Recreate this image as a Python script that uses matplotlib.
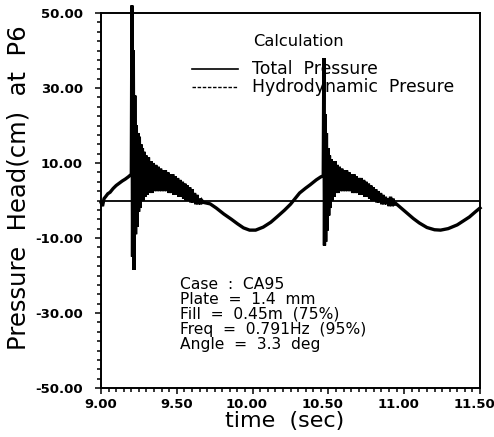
import matplotlib
matplotlib.use("Agg")
import matplotlib.pyplot as plt
from matplotlib.lines import Line2D
from matplotlib.ticker import MultipleLocator, FormatStrFormatter
import matplotlib.transforms as mtransforms

# ---- data ----
# total pressure: time (s)
total_t = [
    9.000, 9.010, 9.020, 9.030, 9.045, 9.060, 9.080, 9.100, 9.120, 9.140, 9.160, 9.180, 9.195, 9.200,
    # burst 1
    9.204, 9.208, 9.213, 9.218, 9.223, 9.228, 9.233, 9.238, 9.243, 9.248, 9.253, 9.258, 9.263, 9.268,
    9.273, 9.278, 9.283, 9.290, 9.297, 9.305, 9.313, 9.321, 9.329, 9.337, 9.345, 9.353, 9.361, 9.369,
    9.377, 9.385, 9.393, 9.401, 9.409, 9.417, 9.425, 9.433, 9.441, 9.449, 9.457, 9.465, 9.473, 9.481,
    9.489, 9.497, 9.505, 9.513, 9.521, 9.529, 9.537, 9.545, 9.553, 9.561, 9.569, 9.577, 9.585, 9.593,
    9.601, 9.609, 9.617, 9.625, 9.633, 9.641, 9.649, 9.657, 9.665, 9.675,
    # trough 1
    9.720, 9.760, 9.810, 9.860, 9.900, 9.940, 9.980, 10.020, 10.070, 10.120, 10.160, 10.210, 10.250,
    10.280, 10.310, 10.350, 10.380, 10.420, 10.450, 10.466,
    # burst 2
    10.470, 10.474, 10.478, 10.482, 10.487, 10.492, 10.497, 10.502, 10.507, 10.512, 10.518, 10.524,
    10.530, 10.537, 10.544, 10.551, 10.558, 10.565, 10.572, 10.580, 10.588, 10.596, 10.604, 10.612,
    10.620, 10.628, 10.636, 10.644, 10.652, 10.660, 10.668, 10.676, 10.684, 10.692, 10.700, 10.708,
    10.716, 10.724, 10.732, 10.740, 10.748, 10.756, 10.764, 10.772, 10.780, 10.788, 10.796, 10.804,
    10.812, 10.820, 10.828, 10.836, 10.844, 10.852, 10.860, 10.868, 10.876, 10.884, 10.892, 10.900,
    10.910, 10.918, 10.926, 10.934, 10.945,
    # trough 2
    11.020, 11.060, 11.100, 11.150, 11.200, 11.240, 11.290, 11.350, 11.400, 11.430, 11.470, 11.500,
]
# total pressure: head (cm)
total_v = [
    -0.5, -1.5, 0.5, 1.0, 1.8, 2.2, 3.2, 4.0, 4.6, 5.2, 5.7, 6.3, 6.8, 7.0,
    52.0, -15.0, 40.0, -18.5, 28.0, -9.0, 20.0, -7.0, 18.0, -3.0, 17.0, -2.0, 15.0, 0.0,
    14.0, 0.0, 13.0, 1.0, 12.0, 1.5, 11.5, 2.0, 10.5, 2.0, 10.0, 2.5, 9.5, 2.5,
    9.0, 2.5, 8.5, 2.5, 8.0, 2.5, 8.0, 2.5, 7.5, 2.0, 7.0, 2.0, 7.0, 1.5,
    6.5, 1.5, 6.0, 1.0, 5.5, 1.0, 5.0, 0.5, 4.5, 0.0, 4.0, 0.0, 3.5, -0.5,
    3.0, -0.5, 2.0, -1.0, 1.5, -1.0, 0.5, -1.0, 0.0, -0.5,
    -0.9, -2.0, -3.6, -5.0, -6.2, -7.3, -7.9, -7.9, -7.1, -5.8, -4.4, -2.6, -1.0,
    0.5, 2.0, 3.3, 4.2, 5.5, 6.3, 6.6,
    38.0, -12.0, 23.0, -11.0, 18.0, -8.0, 14.0, -4.0, 12.0, -2.0, 11.0, 0.0,
    10.0, 1.0, 10.5, 2.0, 9.5, 2.0, 9.0, 2.5, 8.5, 2.5, 8.0, 2.5,
    8.0, 2.5, 7.5, 2.5, 7.0, 2.0, 7.0, 2.0, 6.5, 2.0, 6.0, 1.5,
    6.0, 1.5, 5.5, 1.0, 5.0, 1.0, 4.5, 0.5, 4.0, 0.0, 3.5, 0.0,
    3.0, -0.5, 2.5, -0.5, 2.0, -1.0, 1.5, -1.0, 1.0, -1.0, 0.5, -1.5,
    1.0, -1.5, 0.5, -1.0, -0.8,
    -3.4, -4.8, -6.0, -7.2, -7.8, -7.9, -7.5, -6.5, -5.2, -4.4, -3.0, -2.0,
]
# hydrodynamic pressure (flat line)
hydro_t = [9.00, 11.50]
hydro_v = [0.0, 0.0]

x_limits = (9.00, 11.50)
y_limits = (-50.0, 50.0)

legend_title = "Calculation"
legend_labels = ["Total  Pressure", "Hydrodynamic  Presure"]
info_lines = [
    "Case  :  CA95",
    "Plate  =  1.4  mm",
    "Fill  =  0.45m  (75%)",
    "Freq  =  0.791Hz  (95%)",
    "Angle  =  3.3  deg",
]
x_label = "time  (sec)"
y_label = "Pressure  Head(cm)  at  P6"

# ---- figure ----
W, H = 494, 437
fig = plt.figure(figsize=(W / 100, H / 100), dpi=100)
ax = fig.add_axes([101 / W, 1 - 388 / H, 379 / W, 375 / H])

ax.plot(hydro_t, hydro_v, color="black", lw=1.3, solid_capstyle="butt")
ax.plot(total_t, total_v, color="black", lw=2.4, clip_on=False, solid_joinstyle="miter")

ax.set_xlim(*x_limits)
ax.set_ylim(*y_limits)
ax.xaxis.set_major_locator(MultipleLocator(0.5))
ax.xaxis.set_minor_locator(MultipleLocator(0.05))
ax.yaxis.set_minor_locator(MultipleLocator(2.5))
ax.set_yticks([-50, -30, -10, 10, 30, 50])
ax.xaxis.set_major_formatter(FormatStrFormatter("%.2f"))
ax.yaxis.set_major_formatter(FormatStrFormatter("%.2f"))

for s in ax.spines.values():
    s.set_linewidth(1.4)
ax.tick_params(which="both", direction="out", width=1.1, colors="black")
ax.tick_params(which="major", length=4)
ax.tick_params(which="minor", length=3)
ax.tick_params(axis="y", which="major", pad=9)
ax.tick_params(axis="x", which="major", pad=3)

for lab in ax.get_xticklabels() + ax.get_yticklabels():
    lab.set_fontweight("bold")
    lab.set_fontsize(9.5)
for lab in ax.get_xticklabels():
    if lab.get_text().startswith("1"):
        lab.set_transform(lab.get_transform() + mtransforms.ScaledTranslation(-6 / 100, 0, fig.dpi_scale_trans))

# legend drawn by hand
ax.text(0.401, 0.9227, legend_title, transform=ax.transAxes, fontsize=11.7, va="center", ha="left")
ax.add_line(Line2D([0.240, 0.3615], [0.8507, 0.8507], transform=ax.transAxes, color="black", lw=1.2))
ax.add_line(Line2D([0.240, 0.3615], [0.8027, 0.8027], transform=ax.transAxes, color="black", lw=1.0,
                   dashes=(2.5, 1.2)))
ax.text(0.398, 0.8507, legend_labels[0], transform=ax.transAxes, fontsize=12.4, va="center", ha="left")
ax.text(0.398, 0.8027, legend_labels[1], transform=ax.transAxes, fontsize=12.4, va="center", ha="left")

info_y = [0.2773, 0.2373, 0.1973, 0.1573, 0.1147]
for txt, yy in zip(info_lines, info_y):
    ax.text(0.2084, yy, txt, transform=ax.transAxes, fontsize=11.2, va="center", ha="left")

fig.text(19 / W, 1 - 188 / H, y_label, rotation=90, fontsize=17.5, ha="center", va="center")
fig.text(285 / W, 1 - 421 / H, x_label, fontsize=16, ha="center", va="center")

fig.savefig("out.png", dpi=100)
